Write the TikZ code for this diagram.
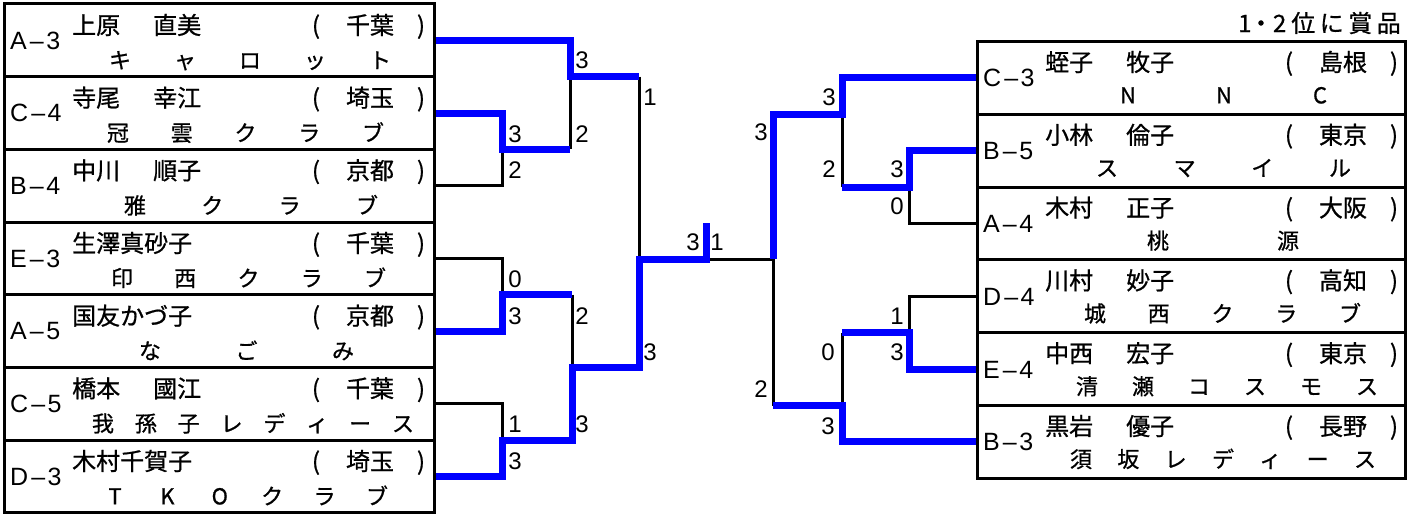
\documentclass[tikz,border=0pt]{standalone}
\usepackage{fontspec}
\setmainfont{Noto Sans CJK JP}[FakeBold=0.8]
\newfontfamily\lat{Liberation Sans}
\pgfdeclarelayer{bg}
\pgfsetlayers{bg,main}
\newcommand\lbl[2]{#1\kern3pt–\kern2.5pt#2}
% #1 box, #2 label, #3 family name, #4 given name, #5 prefecture, #6 name row offset
\newcommand\plr[6]{%
  \node[lab] (#1l) at ([shift={(6,0)}]#1.west) {#2};
  \node[nm] (#1n) at ([shift={(68,#6)}]#1.north west) {#3};
  \node[nm] (#1g) at ([shift={(149,#6)}]#1.north west) {#4};
  \node[nm,anchor=center] (#1o) at ([shift={(312,#6)}]#1.north west) {(};
  \node[nm,anchor=center] (#1p) at ([shift={(366,#6)}]#1.north west) {#5};
  \node[nm,anchor=center] (#1c) at ([shift={(417,#6)}]#1.north west) {)};
}
% #1 box, #2 y, #3 first x, #4 last x, #5 count, #6 chars
\newcommand\team[6]{%
  \foreach \ch [count=\k] in {#6}
    \node[tm] (#1t\k) at ({#3+(\k-1)*(#4-#3)/(#5-1)},#2) {\ch};
}
\begin{document}
\begin{tikzpicture}[x=1pt,y=-1pt,
  box/.style={draw, line width=3pt, minimum width=430pt, minimum height=72.67pt, inner sep=0pt, outer sep=0pt, anchor=north west},
  rbox/.style={box, minimum width=428pt, minimum height=72.8pt},
  lab/.style={font=\lat\fontsize{25}{25}\selectfont, anchor=west, inner sep=0pt, text height=17.9pt, text depth=0pt},
  nm/.style={font=\fontsize{24}{24}\selectfont, anchor=west, inner sep=0pt, text height=21.1pt, text depth=2.9pt},
  tm/.style={font=\fontsize{22}{22}\selectfont, inner sep=0pt, text height=19.4pt, text depth=2.6pt},
  sc/.style={font=\lat\fontsize{24}{24}\selectfont, inner sep=0pt, text height=17.2pt, text depth=0pt},
  lose/.style={line width=3pt, black},
  win/.style={line width=7pt, blue}]
\useasboundingbox (0,0) rectangle (1417,516);

% left boxes
\node[box] (L1) at (4,4) {};
\node[box] (L2) at (4,76.67) {};
\node[box] (L3) at (4,149.33) {};
\node[box] (L4) at (4,222) {};
\node[box] (L5) at (4,294.67) {};
\node[box] (L6) at (4,367.33) {};
\node[box] (L7) at (4,440) {};
% right boxes
\node[rbox] (R1) at (977,41.5) {};
\node[rbox] (R2) at (977,114.3) {};
\node[rbox] (R3) at (977,187.1) {};
\node[rbox] (R4) at (977,259.9) {};
\node[rbox] (R5) at (977,332.7) {};
\node[rbox] (R6) at (977,405.5) {};

\plr{L1}{\lbl{A}{3}}{上原}{直美}{千葉}{21}
\plr{L2}{\lbl{C}{4}}{寺尾}{幸江}{埼玉}{21}
\plr{L3}{\lbl{B}{4}}{中川}{順子}{京都}{21}
\plr{L4}{\lbl{E}{3}}{生澤真砂子}{}{千葉}{21}
\plr{L5}{\lbl{A}{5}}{国友かづ子}{}{京都}{21}
\plr{L6}{\lbl{C}{5}}{橋本}{國江}{千葉}{21}
\plr{L7}{\lbl{D}{3}}{木村千賀子}{}{埼玉}{21}
\plr{R1}{\lbl{C}{3}}{蛭子}{牧子}{島根}{20.5}
\plr{R2}{\lbl{B}{5}}{小林}{倫子}{東京}{20.5}
\plr{R3}{\lbl{A}{4}}{木村}{正子}{大阪}{20.5}
\plr{R4}{\lbl{D}{4}}{川村}{妙子}{高知}{20.5}
\plr{R5}{\lbl{E}{4}}{中西}{宏子}{東京}{20.5}
\plr{R6}{\lbl{B}{3}}{黒岩}{優子}{長野}{20.5}

\team{L1}{60}{120}{380}{5}{キ,ャ,ロ,ッ,ト}
\team{L2}{132.67}{118}{373}{5}{冠,雲,ク,ラ,ブ}
\team{L3}{205.33}{135}{367}{4}{雅,ク,ラ,ブ}
\team{L4}{278}{122}{375}{5}{印,西,ク,ラ,ブ}
\team{L5}{350.67}{150}{343}{3}{な,ご,み}
\team{L6}{423.33}{103}{403}{8}{我,孫,子,レ,デ,ィ,ー,ス}
\team{L7}{496}{115}{377}{6}{T,K,O,ク,ラ,ブ}
\team{R1}{95}{1128}{1320}{3}{N,N,C}
\team{R2}{167.8}{1107}{1340}{4}{ス,マ,イ,ル}
\team{R3}{240.6}{1158}{1288}{2}{桃,源}
\team{R4}{313.4}{1095}{1350}{5}{城,西,ク,ラ,ブ}
\team{R5}{386.2}{1087}{1367}{6}{清,瀬,コ,ス,モ,ス}
\team{R6}{459}{1081}{1365}{7}{須,坂,レ,デ,ィ,ー,ス}

\node[nm, anchor=east] (prize) at (1401,23) {1\kern-2.5pt・2\kern5pt 位\kern4.5pt に\kern4.5pt 賞\kern4.5pt 品};

% bracket joints
\coordinate (m1) at (502,149.33);
\coordinate (m1o) at (570,149.33);
\coordinate (m2) at (570,76.67);
\coordinate (m2o) at (639,76.67);
\coordinate (m3) at (502,294.67);
\coordinate (m3o) at (572,294.67);
\coordinate (m4) at (502,440);
\coordinate (m4o) at (572,440);
\coordinate (m5) at (572,367.33);
\coordinate (m5o) at (639,367.33);
\coordinate (m6) at (639,259);
\coordinate (fin) at (706,259);
\coordinate (fintop) at (706,223);
\coordinate (r1) at (909,187.1);
\coordinate (r1o) at (842,187.1);
\coordinate (r2) at (842,114.3);
\coordinate (r2o) at (773,114.3);
\coordinate (r3) at (909,332.7);
\coordinate (r3o) at (842,332.7);
\coordinate (r4) at (842,405.5);
\coordinate (r4o) at (773,405.5);
\coordinate (r5) at (773,259);

\begin{pgfonlayer}{bg}
\draw[lose] (L3.east) -| (m1);
\draw[lose] (m1o) -- (m2);
\draw[lose] (L4.east) -| (m3);
\draw[lose] (L6.east) -| (m4);
\draw[lose] (m3o) -- (m5);
\draw[lose] (m2o) -- (m6);
\draw[lose] (R3.west) -| (r1);
\draw[lose] (R4.west) -| (r3);
\draw[lose] (r1o) -- (r2);
\draw[lose] (r3o) -- (r4);
\draw[lose] (r4o) -- (r5);
\draw[lose] (r5) -- (fin);

\draw[win] (L1.east) -| (m2) -- (m2o);
\draw[win] (L2.east) -| (m1) -- (m1o);
\draw[win] (L5.east) -| (m3) -- (m3o);
\draw[win] (L7.east) -| (m4) -- (m4o) -- (m5) -- (m5o) -- (m6) -- (fin) -- (fintop);
\draw[win] (R1.west) -| (r2) -- (r2o) -- (r5);
\draw[win] (R2.west) -| (r1) -- (r1o);
\draw[win] (R5.west) -| (r3) -- (r3o);
\draw[win] (R6.west) -| (r4) -- (r4o);
\end{pgfonlayer}

% scores left
\node[sc] (s1a) at (515,134) {3};
\node[sc] (s1b) at (515,170) {2};
\node[sc] (s2a) at (582,60) {3};
\node[sc] (s2b) at (582,134) {2};
\node[sc] (s3a) at (515,279) {0};
\node[sc] (s3b) at (515,316) {3};
\node[sc] (s4a) at (515,424) {1};
\node[sc] (s4b) at (515,461) {3};
\node[sc] (s5a) at (582,316) {2};
\node[sc] (s5b) at (582,424) {3};
\node[sc] (s6a) at (650,97) {1};
\node[sc] (s6b) at (650,352) {3};
\node[sc] (sfa) at (693,242) {3};
\node[sc] (sfb) at (717,242) {1};
% scores right
\node[sc] (t2a) at (829,97) {3};
\node[sc] (t2b) at (829,169) {2};
\node[sc] (t1a) at (897,169) {3};
\node[sc] (t1b) at (897,206) {0};
\node[sc] (t5a) at (761,132) {3};
\node[sc] (t5b) at (761,389) {2};
\node[sc] (t3a) at (897,316) {1};
\node[sc] (t3b) at (897,352) {3};
\node[sc] (t4a) at (828,352) {0};
\node[sc] (t4b) at (828,426) {3};
\end{tikzpicture}
\end{document}
